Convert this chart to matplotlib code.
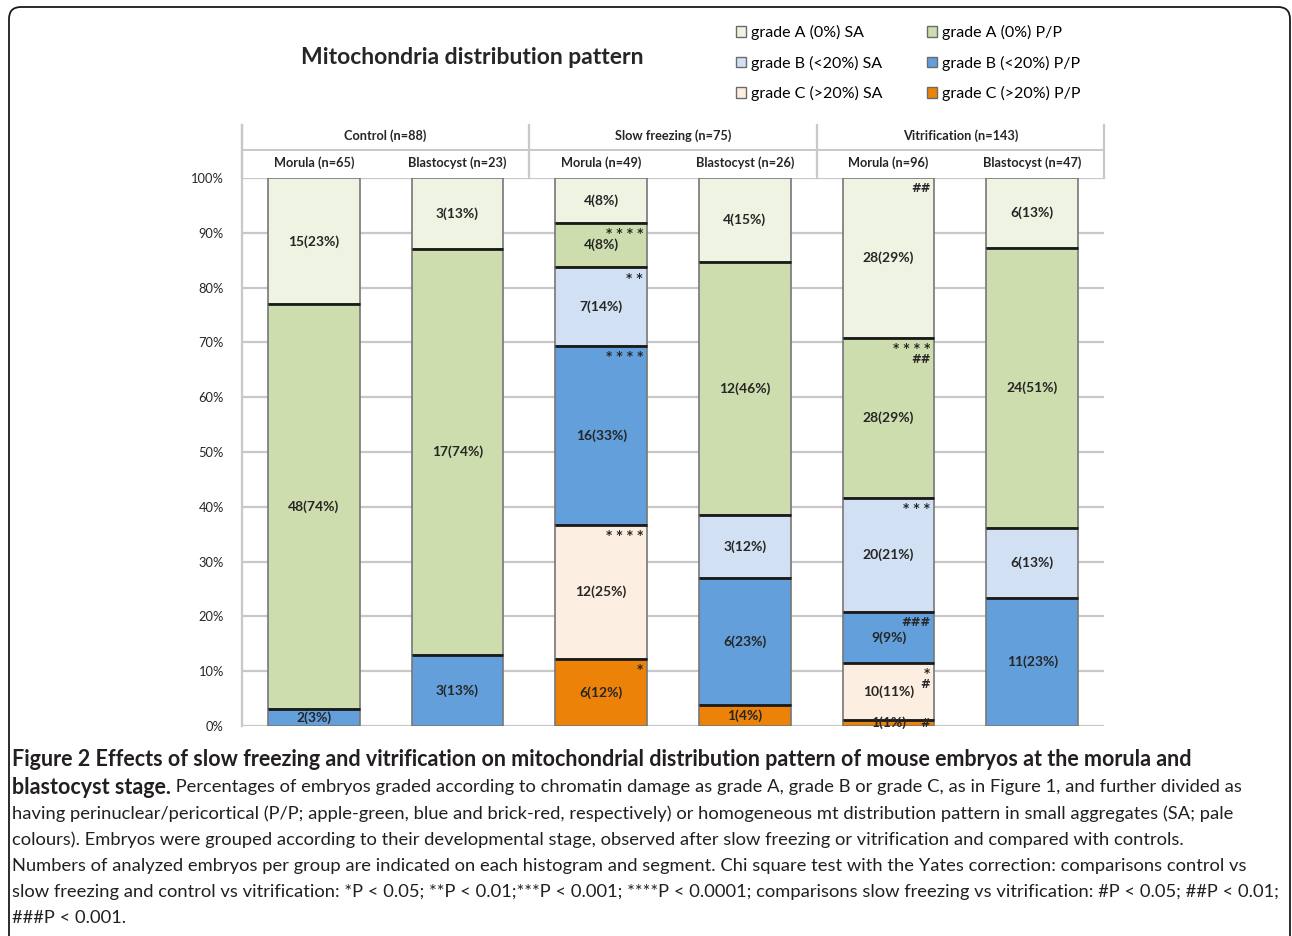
#!/usr/bin/env python3
"""Stacked percentage bars: mitochondria distribution pattern per group/stage."""
import matplotlib
matplotlib.use("Agg")
import matplotlib.pyplot as plt
from matplotlib.patches import Patch, FancyBboxPatch
import numpy as np

plt.rcParams["font.family"] = ["Lato", "DejaVu Sans"]

GROUPS = ["Control (n=88)", "Slow freezing (n=75)", "Vitrification (n=143)"]
STAGES = ["Morula (n=65)", "Blastocyst (n=23)", "Morula (n=49)",
          "Blastocyst (n=26)", "Morula (n=96)", "Blastocyst (n=47)"]
TOTALS = [65, 23, 49, 26, 96, 47]

# counts per bar, stacked bottom -> top
C_PP = [0, 0, 6, 1, 1, 0]
C_SA = [0, 0, 12, 0, 10, 0]
B_PP = [2, 3, 16, 6, 9, 11]
B_SA = [0, 0, 7, 3, 20, 6]
A_PP = [48, 17, 4, 12, 28, 24]
A_SA = [15, 3, 4, 4, 28, 6]

# percentages as printed on the segments
C_PP_PCT = [0, 0, 12, 4, 1, 0]
C_SA_PCT = [0, 0, 25, 0, 11, 0]
B_PP_PCT = [3, 13, 33, 23, 9, 23]
B_SA_PCT = [0, 0, 14, 12, 21, 13]
A_PP_PCT = [74, 74, 8, 46, 29, 51]
A_SA_PCT = [23, 13, 8, 15, 29, 13]

LABELS = ["grade C (>20%) P/P", "grade C (>20%) SA", "grade B (<20%) P/P",
          "grade B (<20%) SA", "grade A (0%) P/P", "grade A (0%) SA"]
COLOURS = ["#ED8209", "#FDEEE2", "#629FDB", "#D1E1F3", "#CEDDAE", "#EEF3E2"]

# significance marks: (bar index, layer label, text)
SIG_MARKS = [
    (2, "grade A (0%) P/P", "* * * *"),
    (2, "grade B (<20%) SA", "* *"),
    (2, "grade B (<20%) P/P", "* * * *"),
    (2, "grade C (>20%) SA", "* * * *"),
    (2, "grade C (>20%) P/P", "*"),
    (4, "grade A (0%) SA", "##"),
    (4, "grade A (0%) P/P", "* * * *\n##"),
    (4, "grade B (<20%) SA", "* * *"),
    (4, "grade B (<20%) P/P", "###"),
    (4, "grade C (>20%) SA", "*\n#"),
    (4, "grade C (>20%) P/P", "#"),
]

CAPTION_BOLD = ("Figure 2 Effects of slow freezing and vitrification on mitochondrial "
                "distribution pattern of mouse embryos at the morula and")
CAPTION_BOLD2 = "blastocyst stage."
CAPTION_LINES = [
    " Percentages of embryos graded according to chromatin damage as grade A, grade B "
    "or grade C, as in Figure 1, and further divided as",
    "having perinuclear/pericortical (P/P; apple-green, blue and brick-red, respectively) "
    "or homogeneous mt distribution pattern in small aggregates (SA; pale",
    "colours). Embryos were grouped according to their developmental stage, observed "
    "after slow freezing or vitrification and compared with controls.",
    "Numbers of analyzed embryos per group are indicated on each histogram and segment. "
    "Chi square test with the Yates correction: comparisons control vs",
    "slow freezing and control vs vitrification: *P < 0.05; **P < 0.01;***P < 0.001; "
    "****P < 0.0001; comparisons slow freezing vs vitrification: #P < 0.05; ##P < 0.01;",
    "###P < 0.001.",
]

W, H = 1292, 936
GRID = "#c8c8c8"
INK = "#262626"

fig = plt.figure(figsize=(W / 100, H / 100), dpi=100)
ax = fig.add_axes([242 / W, 1 - 726 / H, (1104 - 242) / W, (726 - 178) / H])

x = np.arange(len(STAGES))
totals = np.array(TOTALS, dtype=float)
layers = [(C_PP, C_PP_PCT), (C_SA, C_SA_PCT), (B_PP, B_PP_PCT),
          (B_SA, B_SA_PCT), (A_PP, A_PP_PCT), (A_SA, A_SA_PCT)]
bw = 0.64
bottom = np.zeros(len(x))
seg = {}
for (counts, pcts), lab, col in zip(layers, LABELS, COLOURS):
    h = np.array(counts) / totals * 100
    ax.bar(x, h, bw, bottom=bottom, color=col, edgecolor="#777777",
           linewidth=1.2, zorder=3)
    for i in range(len(x)):
        if counts[i] == 0:
            continue
        ax.text(x[i], bottom[i] + h[i] / 2, f"{counts[i]}({pcts[i]}%)",
                ha="center", va="center", fontsize=10, fontweight="bold",
                color=INK, zorder=6)
        top = bottom[i] + h[i]
        if top < 99.9:
            ax.hlines(top, x[i] - bw / 2, x[i] + bw / 2, color="#1a1a1a",
                      lw=2.0, zorder=4)
    seg[lab] = (bottom.copy(), bottom + h)
    bottom = bottom + h

for i, lab, txt in SIG_MARKS:
    b, t = seg[lab][0][i], seg[lab][1][i]
    style = dict(textcoords="offset points", ha="right", fontsize=8.5,
                 fontweight="bold", color=INK, zorder=6,
                 family=["DejaVu Sans"], linespacing=0.8)
    if t - b < 3:
        ax.annotate(txt, (x[i] + bw / 2, (b + t) / 2), xytext=(-3, 0),
                    va="center", **style)
    else:
        ax.annotate(txt, (x[i] + bw / 2, t), xytext=(-3, -3),
                    va="top", **style)

ax.set_xlim(-0.5, len(x) - 0.5)
ax.set_ylim(0, 100)
ax.set_yticks(np.arange(0, 101, 10))
ax.set_yticklabels([f"{v}%" for v in range(0, 101, 10)])
ax.set_xticks([])
ax.tick_params(axis="y", length=0, pad=13, labelsize=9.3, labelcolor=INK)
ax.yaxis.grid(True, color=GRID, lw=1.6)
ax.set_axisbelow(True)
for s in ax.spines.values():
    s.set_visible(False)

# header table above the plot
trans = ax.get_xaxis_transform()
htop = 1.097
ax.plot([-0.5, -0.5], [0, htop], transform=trans, color=GRID, lw=1.6, clip_on=False)
per_group = len(STAGES) // len(GROUPS)
for k in range(len(GROUPS) + 1):
    xv = k * per_group - 0.5
    ax.plot([xv, xv], [1.0, htop], transform=trans, color=GRID, lw=1.6, clip_on=False)
ax.plot([-0.5, len(x) - 0.5], [1.051, 1.051], transform=trans, color=GRID,
        lw=1.4, clip_on=False)
for k, g in enumerate(GROUPS):
    ax.text(k * per_group + (per_group - 1) / 2, 1.077, g, transform=trans,
            ha="center", va="center", fontsize=9.2, fontweight="bold", color=INK)
for i, s in enumerate(STAGES):
    ax.text(x[i], 1.028, s, transform=trans, ha="center", va="center",
            fontsize=9.2, fontweight="bold", color=INK)

fig.text(472 / W, 1 - 58 / H, "Mitochondria distribution pattern", ha="center",
         va="center", fontsize=16.5, fontweight="bold", color=INK)

order = [5, 3, 1, 4, 2, 0]
handles = [Patch(facecolor=COLOURS[j], edgecolor="#6b6b6b", lw=1) for j in order]
fig.legend(handles, [LABELS[j] for j in order], ncol=2, loc="upper left",
           bbox_to_anchor=(736 / W, 1 - 25 / H), frameon=False, fontsize=11.5,
           handlelength=0.65, handleheight=0.65, handletextpad=0.3,
           columnspacing=2.75, labelspacing=0.97, borderpad=0, borderaxespad=0)

# outer frame with rounded top corners
frame = FancyBboxPatch((0.09, -0.4), 12.81, 9.29 + 0.4,
                       boxstyle="round,pad=0,rounding_size=0.12",
                       transform=fig.dpi_scale_trans, fill=False,
                       ec="#1a1a1a", lw=1.3)
fig.add_artist(frame)

# caption, sized to the reference line widths
r = fig.canvas.get_renderer()
x0 = 12 / W
cap = "#231f20"
t1 = fig.text(x0, 1 - 760 / H, CAPTION_BOLD, fontsize=12, fontweight="bold",
              va="center", color=cap)
fs_b = 12 * 1173 / t1.get_window_extent(r).width
t1.set_fontsize(fs_b)

scales = []
for line, target in ((CAPTION_LINES[3], 1274), (CAPTION_LINES[4], 1262)):
    probe = fig.text(0, 0, line, fontsize=12)
    scales.append(target / probe.get_window_extent(r).width)
    probe.remove()
fs_r = 12 * min(scales)

y2 = 1 - 787 / H
t2 = fig.text(x0, y2, CAPTION_BOLD2, fontsize=fs_b, fontweight="bold",
              va="center", color=cap)
wb = t2.get_window_extent(r).width / W
fig.text(x0 + wb, y2, CAPTION_LINES[0], fontsize=fs_r, va="center", color=cap)
for k, line in enumerate(CAPTION_LINES[1:]):
    fig.text(x0, 1 - (813.5 + 26.2 * k) / H, line, fontsize=fs_r,
             va="center", color=cap)

fig.savefig("out.png", dpi=100)
